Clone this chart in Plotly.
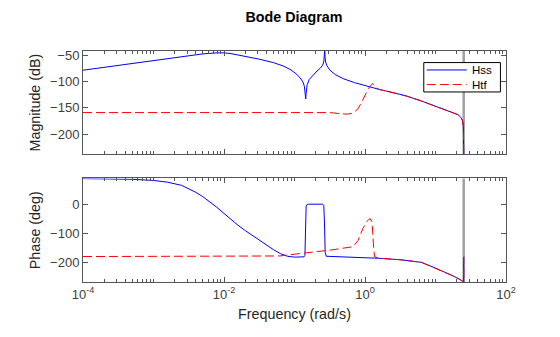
import plotly.graph_objects as go
from plotly.subplots import make_subplots

# Frequency samples are stored as log10(rad/s)
NYQUIST_LW = 1.4002  # log10(pi / 0.125)

# --- Hss (state-space model) ---
hss_mag_lw = [-4.0, -3.5, -3.0, -2.6, -2.3, -2.1, -2.0, -1.9, -1.7, -1.5, -1.3, -1.15,
              -1.05, -0.98, -0.92, -0.88, -0.86, -0.848, -0.841, -0.835, -0.82, -0.79,
              -0.74, -0.68, -0.63, -0.6, -0.585, -0.576, -0.571, -0.566, -0.558, -0.54,
              -0.5, -0.42, -0.3, -0.15, 0.0, 0.2, 0.4, 0.6, 0.8, 1.0, 1.15, 1.25, 1.32,
              1.36, 1.385, 1.395, 1.4002]
hss_mag_db = [-78.5, -69, -59.5, -52, -47.5, -45.5, -45.5, -47, -52, -57.5, -64, -71,
              -78, -85, -93, -101, -109, -120, -133, -122, -106, -96,
              -88, -80, -74, -69, -63, -54, -40, -54, -63, -70,
              -78, -87, -95, -102, -108, -115, -121, -128, -137, -147, -154, -158, -163,
              -168, -175, -185, -240]

hss_ph_lw = [-4.0, -3.6, -3.3, -3.0, -2.8, -2.6, -2.5, -2.4, -2.3, -2.2, -2.1, -2.0,
             -1.9, -1.8, -1.7, -1.6, -1.5, -1.4, -1.3, -1.2, -1.1, -1.0, -0.9, -0.865,
             -0.852, -0.845, -0.835, -0.82, -0.8, -0.6, -0.585, -0.575, -0.565, -0.55,
             -0.4, -0.2, 0.0, 0.2, 0.5, 0.8, 1.0, 1.15, 1.25, 1.35, 1.395, 1.4002, 1.4002]
hss_ph_deg = [89.5, 88.5, 87, 83, 77, 66, 55, 42, 27, 10, -10, -31,
              -52, -72, -90, -107, -123, -139, -156, -170, -179, -182, -182, -181,
              -176, -60, -6, 0, 1, 1, -3, -60, -165, -179,
              -180, -181, -183, -186, -191, -200, -220, -235, -247, -260, -266, -268, -181]

# --- Htf (transfer function model) ---
htf_mag_lw = [-4.0, -3.0, -2.0, -1.0, -0.5, -0.35, -0.25, -0.17, -0.1, -0.05, 0.0, 0.05,
              0.09, 0.108, 0.13, 0.16, 0.2, 0.4, 0.6, 0.8, 1.0, 1.15, 1.25, 1.32, 1.36,
              1.385, 1.395, 1.4002]
htf_mag_db = [-159, -159, -159, -159, -159, -161, -162, -160, -152, -140, -125, -113,
              -106, -104, -108, -112, -115, -121, -128, -137, -147, -154, -158, -163, -168,
              -175, -185, -240]

htf_ph_lw = [-4.0, -3.0, -2.0, -1.9, -1.21, -0.83, -0.5, -0.17, -0.1, -0.03, 0.03, 0.07,
             0.1, 0.12, 0.135, 0.2, 0.5, 0.8, 1.0, 1.15, 1.25, 1.35, 1.395, 1.4002, 1.4002]
htf_ph_deg = [-180, -180, -180, -180, -178, -167, -158, -146, -125, -83, -58, -48,
              -60, -140, -181, -186, -191, -200, -220, -235, -247, -260, -266, -268, -181]

# Axis tick labels
x_major = [1e-4, 1e-2, 1e0, 1e2]
x_major_text = ["10<sup>-4</sup>", "10<sup>-2</sup>", "10<sup>0</sup>", "10<sup>2</sup>"]
mag_ticks = [-50, -100, -150, -200]
ph_ticks = [0, -100, -200]
legend_names = ["Hss", "Htf"]


def w(lw):
    return [10 ** v for v in lw]


fig = make_subplots(rows=2, cols=1, shared_xaxes=False, vertical_spacing=0.105)

BLUE = "#0000ff"
RED = "#ff0000"
RED_DASH = "9px,4px"

fig.add_trace(go.Scatter(x=w(hss_mag_lw), y=hss_mag_db, mode="lines", name="Hss",
                         line=dict(color=BLUE, width=1)), row=1, col=1)
fig.add_trace(go.Scatter(x=w(htf_mag_lw), y=htf_mag_db, mode="lines", name="Htf",
                         line=dict(color=RED, width=1, dash=RED_DASH)), row=1, col=1)
fig.add_trace(go.Scatter(x=w(hss_ph_lw), y=hss_ph_deg, mode="lines", name="Hss",
                         line=dict(color=BLUE, width=1)), row=2, col=1)
fig.add_trace(go.Scatter(x=w(htf_ph_lw), y=htf_ph_deg, mode="lines", name="Htf",
                         line=dict(color=RED, width=1, dash=RED_DASH)), row=2, col=1)

# Nyquist frequency marker in both panels
for xref, yref in (("x", "y domain"), ("x2", "y2 domain")):
    fig.add_shape(type="line", xref=xref, yref=yref,
                  x0=10 ** NYQUIST_LW, x1=10 ** NYQUIST_LW, y0=0, y1=1,
                  line=dict(color="#a0a0a0", width=2.5), layer="below")

# Boxed legend in the upper panel
LX0, LX1, LY0, LY1 = 0.8056, 0.9868, 0.8227, 0.9499
fig.add_shape(type="rect", xref="paper", yref="paper", x0=LX0, x1=LX1, y0=LY0, y1=LY1,
              line=dict(color="#000000", width=1), fillcolor="white", layer="above")
for name, color, dash, yy in ((legend_names[0], BLUE, "solid", 0.9179),
                              (legend_names[1], RED, RED_DASH, 0.8547)):
    fig.add_shape(type="line", xref="paper", yref="paper", x0=0.8127, x1=0.9072,
                  y0=yy, y1=yy, line=dict(color=color, width=1, dash=dash), layer="above")
    fig.add_annotation(text=name, xref="paper", yref="paper", x=0.9150, y=yy,
                       xanchor="left", yanchor="middle", showarrow=False,
                       font=dict(size=11.5, color="#000000"))

minor_vals = []
for e in range(-4, 2):
    for m in range(1, 10):
        v = m * 10 ** e
        if v not in x_major:
            minor_vals.append(v)

AX = "#555555"
TXT = "#404040"
xcommon = dict(type="log", range=[-4, 2], showgrid=False, zeroline=False,
               showline=True, linecolor=AX, linewidth=1, mirror="ticks",
               ticks="inside", ticklen=5, tickcolor=AX, tickmode="array",
               tickvals=x_major,
               minor=dict(tickmode="array", tickvals=minor_vals, ticks="inside",
                          ticklen=3, tickcolor=AX, showgrid=False),
               tickfont=dict(size=13, color=TXT))
ycommon = dict(showgrid=False, zeroline=False, showline=True, linecolor=AX, linewidth=1,
               mirror="ticks", ticks="inside", ticklen=5, tickcolor=AX,
               tickmode="array", tickfont=dict(size=13, color=TXT))

fig.update_xaxes(**xcommon, showticklabels=False, row=1, col=1)
fig.update_xaxes(**xcommon, ticktext=x_major_text, row=2, col=1,
                 title=dict(text="Frequency (rad/s)", font=dict(size=14.3, color="#262626"),
                            standoff=8))
fig.update_yaxes(**ycommon, range=[-238, -42], tickvals=mag_ticks, row=1, col=1,
                 title=dict(text="Magnitude (dB)", font=dict(size=14.3, color="#262626"),
                            standoff=6))
fig.update_yaxes(**ycommon, range=[-268, 90], tickvals=ph_ticks, row=2, col=1,
                 title=dict(text="Phase (deg)", font=dict(size=14.3, color="#262626"),
                            standoff=6))

fig.update_layout(
    width=560, height=337,
    margin=dict(l=83, r=54, t=51, b=55),
    paper_bgcolor="white", plot_bgcolor="white",
    font=dict(family="Liberation Sans, Arial, sans-serif", color="#262626"),
    title=dict(text="<b>Bode Diagram</b>", x=0.525, xanchor="center", y=0.95,
               yanchor="middle", font=dict(size=14.3, color="#000000")),
    showlegend=False,
)
fig.update_layout(yaxis_domain=[0.5534, 1.0], yaxis2_domain=[0.0, 0.4483])

fig.write_html("out.html")
